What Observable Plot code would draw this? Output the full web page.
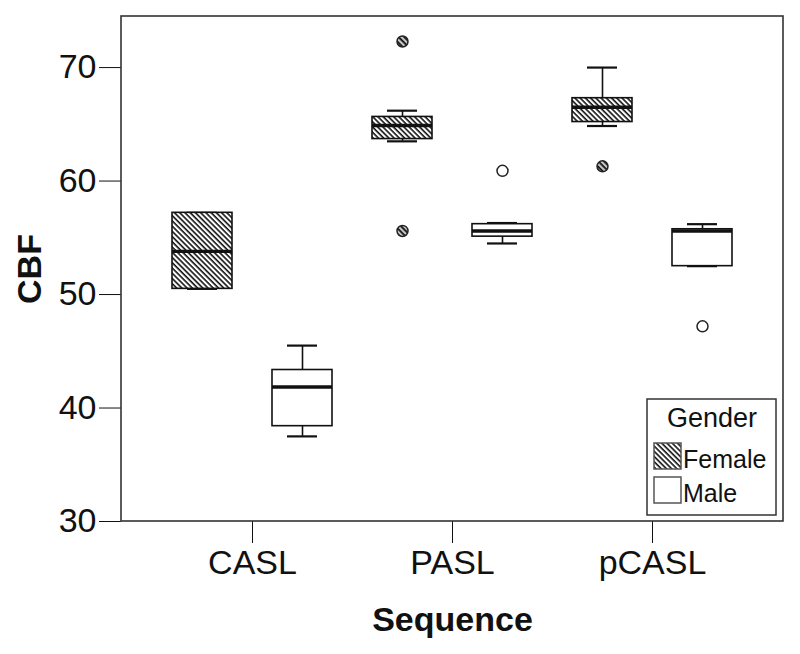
<!DOCTYPE html>
<html>
<head>
<meta charset="utf-8">
<script src="https://cdn.jsdelivr.net/npm/d3@7"></script>
<script src="https://cdn.jsdelivr.net/npm/@observablehq/plot@0.6"></script>
<style>
  html, body { margin: 0; padding: 0; background: #fff; }
  #chart svg g[aria-label$="-axis label"] text { font-weight: bold; }
</style>
</head>
<body>
<div id="chart"></div>
<script>
// ---- data ----
const sequences = ["CASL", "PASL", "pCASL"];
const genders = ["Female", "Male"];
const yTicks = [30, 40, 50, 60, 70];

const boxSequence = ["CASL", "CASL", "PASL", "PASL", "pCASL", "pCASL"];
const boxGender   = ["Female", "Male", "Female", "Male", "Female", "Male"];
const whiskerLow  = [50.5, 37.5, 63.5, 54.5, 64.85, 52.5];
const q1          = [50.5, 38.4, 63.7, 55.1, 65.2, 52.5];
const median      = [53.8, 41.85, 64.9, 55.6, 66.5, 55.6];
const q3          = [57.2, 43.35, 65.65, 56.2, 67.3, 55.75];
const whiskerHigh = [57.2, 45.5, 66.2, 56.3, 70.0, 56.2];

const outlierSequence = ["PASL", "PASL", "PASL", "pCASL", "pCASL"];
const outlierGender   = ["Female", "Female", "Male", "Female", "Male"];
const outlierValue    = [72.3, 55.6, 60.9, 61.3, 47.2];

// ---- tables built from the arrays ----
const boxes = boxSequence.map((s, i) => ({
  sequence: s, gender: boxGender[i],
  lo: whiskerLow[i], q1: q1[i], med: median[i], q3: q3[i], hi: whiskerHigh[i]
}));
const outliers = outlierSequence.map((s, i) => ({sequence: s, gender: outlierGender[i], value: outlierValue[i]}));
const isF = d => d.gender === "Female";
const isM = d => d.gender === "Male";

const W = 800, H = 654;
const mL = 121, mR = 17, mT = 16, mB = 133;
const ink = "#111";
const fxOuter = 0.155;
const firstFacetGap = (W - mL - mR) * fxOuter / (sequences.length + 2 * fxOuter);

const plot = Plot.plot({
  width: W, height: H,
  marginLeft: mL, marginRight: mR, marginTop: mT, marginBottom: mB,
  style: {fontFamily: "'Liberation Sans', Arial, sans-serif", fontSize: "34px", color: "#111", background: "#fff"},
  y: {domain: [30, 74.5], axis: null},
  fx: {domain: sequences, paddingInner: 0, paddingOuter: fxOuter, round: false, axis: "bottom",
       tickSize: 22, tickPadding: 6, label: "Sequence", labelAnchor: "center", labelArrow: "none", labelOffset: 109},
  x: {domain: genders, paddingInner: 0.4, paddingOuter: 0.2, round: false, axis: null},
  marks: [
    Plot.axisY({ticks: yTicks, tickSize: 22, tickPadding: 3, dx: -firstFacetGap,
                label: "CBF", labelAnchor: "center", labelArrow: "none", labelOffset: 136}),
    Plot.ruleX(boxes, {fx: "sequence", x: "gender", y1: "lo", y2: "q1", stroke: ink, strokeWidth: 1.6}),
    Plot.ruleX(boxes, {fx: "sequence", x: "gender", y1: "q3", y2: "hi", stroke: ink, strokeWidth: 1.6}),
    Plot.tickY(boxes, {fx: "sequence", x: "gender", y: "lo", insetLeft: 15, insetRight: 15, stroke: ink, strokeWidth: 2.2}),
    Plot.tickY(boxes, {fx: "sequence", x: "gender", y: "hi", insetLeft: 15, insetRight: 15, stroke: ink, strokeWidth: 2.2}),
    Plot.barY(boxes.filter(isF), {fx: "sequence", x: "gender", y1: "q1", y2: "q3", fill: "url(#hatch)", stroke: ink, strokeWidth: 1.6}),
    Plot.barY(boxes.filter(isM), {fx: "sequence", x: "gender", y1: "q1", y2: "q3", fill: "white", stroke: ink, strokeWidth: 1.6}),
    Plot.tickY(boxes, {fx: "sequence", x: "gender", y: "med", stroke: ink, strokeWidth: 3.4}),
    Plot.dot(outliers.filter(isF), {fx: "sequence", x: "gender", y: "value", r: 5.5, fill: "url(#hatchdot)", stroke: "#222", strokeWidth: 1.5}),
    Plot.dot(outliers.filter(isM), {fx: "sequence", x: "gender", y: "value", r: 5.5, fill: "white", stroke: "#222", strokeWidth: 1.5})
  ]
});

document.getElementById("chart").appendChild(plot);

// ---- decorations: hatch patterns, frame, legend ----
const svg = d3.select(plot);
const defs = svg.insert("defs", ":first-child");
function hatch(id, bg, gap, sw) {
  const p = defs.append("pattern").attr("id", id).attr("patternUnits", "userSpaceOnUse")
    .attr("width", gap).attr("height", gap).attr("patternTransform", "rotate(45)");
  p.append("rect").attr("width", gap).attr("height", gap).attr("fill", bg);
  p.append("rect").attr("x", 0).attr("y", 0).attr("width", gap).attr("height", sw).attr("fill", "#111");
}
hatch("hatch", "#fff", 3.7, 1.6);
hatch("hatchdot", "#c8c8c8", 4, 1.8);

svg.append("rect")
  .attr("x", mL).attr("y", mT).attr("width", W - mL - mR).attr("height", H - mT - mB)
  .attr("fill", "none").attr("stroke", "#333").attr("stroke-width", 1.6);

const lg = svg.append("g").attr("font-family", "'Liberation Sans', Arial, sans-serif").attr("fill", "#111");
lg.append("rect").attr("x", 647).attr("y", 399).attr("width", 129).attr("height", 116)
  .attr("fill", "white").attr("stroke", "#333").attr("stroke-width", 1.5);
lg.append("text").attr("x", 712).attr("y", 427).attr("text-anchor", "middle").attr("font-size", 27).text("Gender");
const legendItems = [{label: genders[0], fill: "url(#hatch)", y: 443}, {label: genders[1], fill: "white", y: 477}];
legendItems.forEach(it => {
  lg.append("rect").attr("x", 654).attr("y", it.y).attr("width", 27).attr("height", 26)
    .attr("fill", it.fill).attr("stroke", "#555").attr("stroke-width", 1.5);
  lg.append("text").attr("x", 683).attr("y", it.y + 25).attr("text-anchor", "start").attr("font-size", 25).text(it.label);
});
</script>
</body>
</html>
